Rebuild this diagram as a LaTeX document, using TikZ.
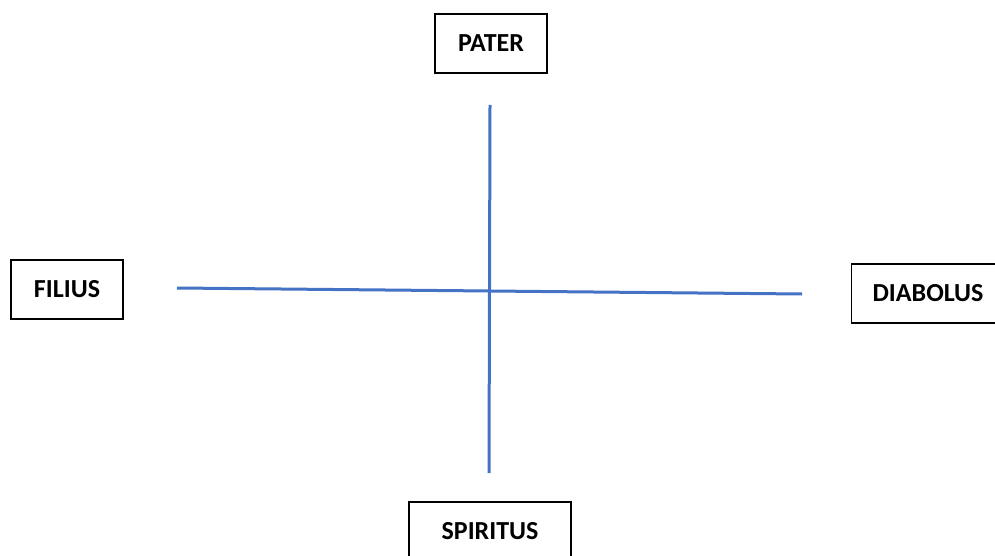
\documentclass[tikz,border=0pt]{standalone}
\usepackage{fontspec}
\setmainfont{Carlito}
\usepackage{xcolor}
\usepackage{tikz}
\usetikzlibrary{positioning}
\definecolor{CrossBlue}{HTML}{4472C4}

\begin{document}
\begin{tikzpicture}[
  x=1pt,y=-1pt,
  namebox/.style={draw,line width=1.5pt,minimum height=59pt,inner sep=0pt,font=\fontsize{26}{31}\selectfont\bfseries},
  crossline/.style={CrossBlue,line width=3pt}
]
\useasboundingbox (0,0) rectangle (995,556);
\clip (0,0) rectangle (995,556);
\node[namebox,minimum width=112pt] (pater) at (491,43.5) {PATER};
\node[namebox,minimum width=112pt] (filius) at (67,289.5) {FILIUS};
\node[namebox,minimum width=153pt] (diabolus) at (928,293.5) {DIABOLUS};
\node[namebox,minimum width=162pt] (spiritus) at (490,531.5) {SPIRITUS};
\coordinate (top) at (490,105);
\coordinate (bottom) at (489,473);
\coordinate (left) at (177,288);
\coordinate (right) at (802,294);
\draw[crossline] (top)--(bottom);
\draw[crossline] (left)--(right);
\end{tikzpicture}
\end{document}
